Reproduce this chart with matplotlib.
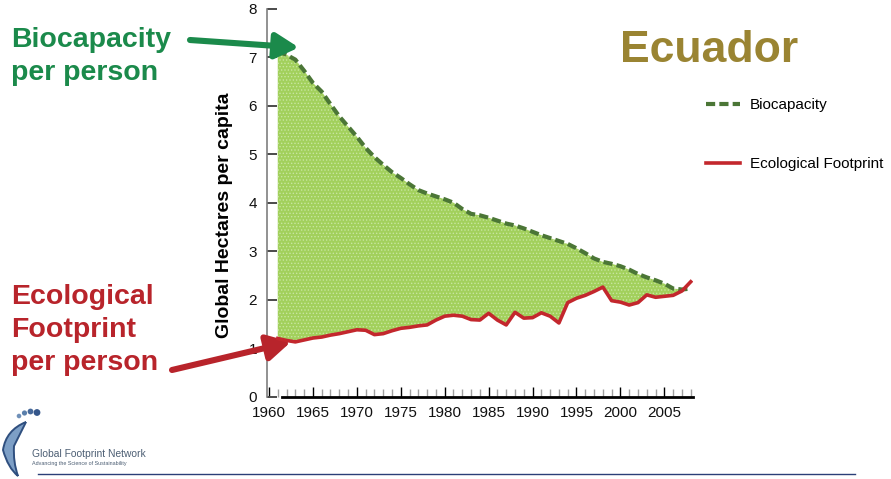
import matplotlib
matplotlib.use("Agg")
import matplotlib.pyplot as plt
from matplotlib.lines import Line2D
from matplotlib.patches import Circle, PathPatch
from matplotlib.path import Path
from matplotlib.ticker import MultipleLocator

plt.rcParams['font.family'] = ['Liberation Sans', 'DejaVu Sans']
plt.rcParams['hatch.linewidth'] = 0.6

# Ecuador, global hectares per capita
years = list(range(1961, 2009))
biocapacity = [7.12, 7.05, 6.95, 6.72, 6.47, 6.29, 6.03, 5.78, 5.57, 5.36,
               5.13, 4.94, 4.78, 4.63, 4.51, 4.38, 4.26, 4.19, 4.13, 4.07,
               4.00, 3.87, 3.77, 3.74, 3.69, 3.63, 3.57, 3.53, 3.47, 3.40,
               3.33, 3.27, 3.21, 3.15, 3.06, 2.96, 2.85, 2.78, 2.74, 2.69,
               2.62, 2.53, 2.46, 2.40, 2.33, 2.23, 2.21, 2.23]
footprint = [1.20, 1.16, 1.13, 1.17, 1.21, 1.23, 1.27, 1.30, 1.34, 1.38,
             1.37, 1.28, 1.30, 1.36, 1.41, 1.43, 1.46, 1.48, 1.58, 1.66,
             1.68, 1.66, 1.59, 1.58, 1.72, 1.58, 1.48, 1.74, 1.62, 1.63,
             1.73, 1.66, 1.52, 1.94, 2.03, 2.09, 2.17, 2.26, 1.98, 1.95,
             1.89, 1.94, 2.10, 2.05, 2.07, 2.09, 2.18, 2.37]
x_major = list(range(1960, 2006, 5))
y_major = list(range(0, 9))

series_labels = ['Biocapacity', 'Ecological Footprint']
bio_color = '#4b7636'
fp_color = '#c3272d'
fill_color = '#a2d05c'

W, H = 891, 479
fig = plt.figure(figsize=(W / 100, H / 100), dpi=100)
ax = fig.add_axes([266.7 / W, 82.3 / H, 426.3 / W, 388 / H])

ax.fill_between(years, footprint, biocapacity,
                where=[b >= f for b, f in zip(biocapacity, footprint)],
                interpolate=True, facecolor=fill_color, edgecolor='#c8e6a0',
                hatch='.....', linewidth=0, zorder=1)
bio_line, = ax.plot(years, biocapacity, color=bio_color, lw=3.0,
                    dashes=[2.2, 1.0], solid_capstyle='butt', zorder=3)
fp_line, = ax.plot(years, footprint, color=fp_color, lw=2.6,
                   solid_joinstyle='round', zorder=4)

ax.set_xlim(1959.74, 2008.26)
ax.set_ylim(0, 8)
for s in ('top', 'right'):
    ax.spines[s].set_visible(False)
ax.spines['left'].set_color('#7f7f7f')
ax.spines['left'].set_linewidth(1.2)
ax.spines['bottom'].set_color('black')
ax.spines['bottom'].set_linewidth(2.0)
ax.spines['bottom'].set_bounds(1961.5, 2008.26)

ax.set_xticks(x_major)
ax.set_xticklabels([str(v) for v in x_major])
ax.xaxis.set_minor_locator(MultipleLocator(1))
ax.tick_params(axis='x', which='major', direction='in', length=7, width=1.0,
               color='black', pad=7, labelsize=11, labelcolor='#111111')
ax.tick_params(axis='x', which='minor', direction='in', length=5.5, width=1.0,
               color='#a0a0a0')
ax.set_yticks(y_major)
ax.tick_params(axis='y', direction='in', length=7, width=1.4, color='#4a4a4a',
               pad=7, labelsize=11, labelcolor='#111111')
ax.set_ylabel('Global Hectares per capita', fontsize=14, fontweight='bold')
ax.yaxis.set_label_coords(-0.078, 0.468)

fig.legend([bio_line, fp_line], series_labels, loc='upper left',
           bbox_to_anchor=(706 / W, (H - 98) / H), frameon=False,
           fontsize=11, handlelength=2.2, handletextpad=0.65,
           labelspacing=2.95, borderpad=0, borderaxespad=0)

fig.text(620 / W, 1 - 30 / H, 'Ecuador', fontsize=32, fontweight='bold',
         color='#9a8432', ha='left', va='top')

green_txt = '#1b8a4b'
red_txt = '#b8242b'
fig.text(11 / W, 1 - 27 / H, 'Biocapacity\nper person', fontsize=20.5,
         fontweight='bold', color=green_txt, ha='left', va='top',
         linespacing=1.35)
fig.text(11 / W, 1 - 284 / H, 'Ecological\nFootprint\nper person',
         fontsize=20.5, fontweight='bold', color=red_txt, ha='left',
         va='top', linespacing=1.35)

arrow_kw = dict(arrowstyle='-|>,head_length=1.0,head_width=0.55',
                mutation_scale=14, shrinkA=0, shrinkB=0, lw=4.4)
ax.annotate('', xy=(1963.4, 7.2), xycoords='data',
            xytext=(190, H - 40), textcoords='figure pixels',
            arrowprops=dict(color=green_txt, **arrow_kw), annotation_clip=False)
ax.annotate('', xy=(1962.5, 1.13), xycoords='data',
            xytext=(172, H - 370), textcoords='figure pixels',
            arrowprops=dict(color=red_txt, **arrow_kw), annotation_clip=False)

# organisation logo and footer rule
lax = fig.add_axes([0, 0, 180 / W, 75 / H])
lax.set_xlim(0, 180)
lax.set_ylim(75, 0)
lax.axis('off')
for cx, cy, r, c in [(19, 12, 2.3, '#6f90b8'), (24.5, 9, 2.6, '#5a7fab'),
                     (30.5, 7.5, 2.9, '#46699a'), (37, 8.5, 3.4, '#34568a')]:
    lax.add_patch(Circle((cx, cy), r, color=c, lw=0))
sole = Path([(26, 18), (6, 26), (3, 46), (8, 64), (18, 72),
             (13, 58), (14, 42), (26, 18)],
            [Path.MOVETO, Path.CURVE3, Path.CURVE3, Path.CURVE3, Path.CURVE3,
             Path.CURVE3, Path.CURVE3, Path.LINETO])
lax.add_patch(PathPatch(sole, facecolor='#7d9fc6', edgecolor='#2f4f7f',
                        lw=1.4))
lax.text(32, 53, 'Global Footprint Network', fontsize=7.4, color='#4d5f74',
         ha='left', va='baseline')
lax.text(32, 60.5, 'Advancing the Science of Sustainability', fontsize=3.9,
         color='#4d5f74', ha='left', va='baseline')

fig.add_artist(Line2D([38 / W, 855 / W], [1 - 474 / H, 1 - 474 / H],
                      transform=fig.transFigure, color='#2b3f78', lw=1.0))

fig.savefig('out.png', dpi=100)
